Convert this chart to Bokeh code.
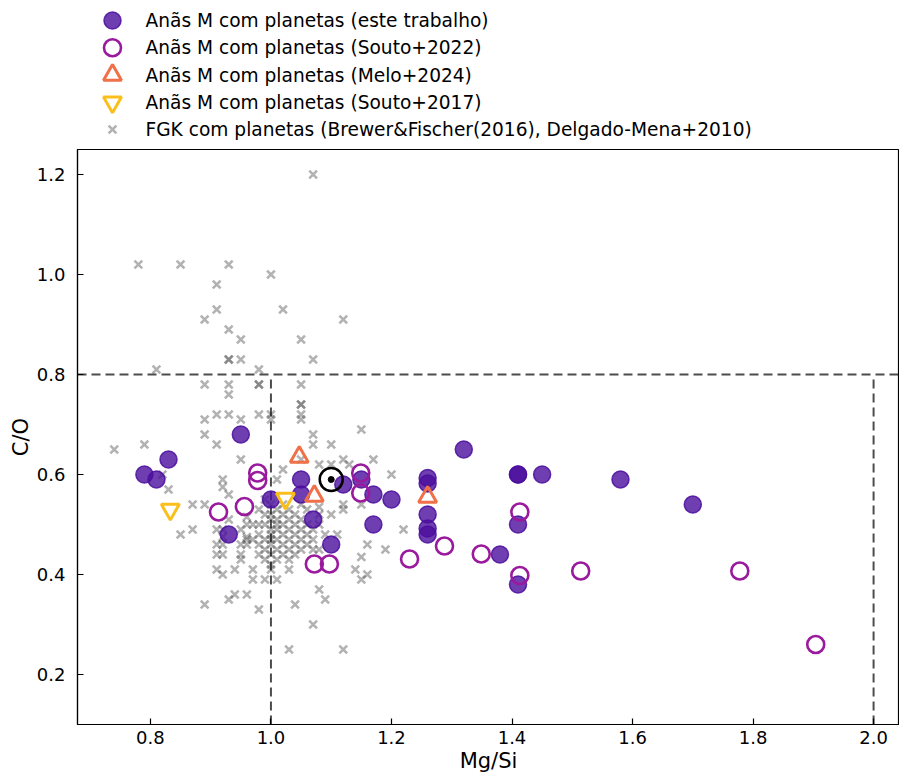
from bokeh.plotting import figure
from bokeh.models import Span, Range1d, FixedTicker
from bokeh.layouts import column
from bokeh.core.properties import value
from bokeh.embed import file_html
from bokeh.resources import INLINE

# ---------------- data ----------------
# M dwarfs with planets (this work)
this_mgsi = [0.79, 0.81, 0.83, 0.93, 0.95, 1.00, 1.05, 1.05, 1.07, 1.10,
             1.12, 1.15, 1.17, 1.17, 1.20, 1.26, 1.26, 1.26, 1.26, 1.26,
             1.32, 1.38, 1.41, 1.41, 1.41, 1.41, 1.45, 1.58, 1.70]
this_co = [0.60, 0.59, 0.63, 0.48, 0.68, 0.55, 0.59, 0.56, 0.51, 0.46,
           0.58, 0.59, 0.56, 0.50, 0.55, 0.593, 0.582, 0.52, 0.492, 0.48,
           0.65, 0.44, 0.60, 0.60, 0.50, 0.38, 0.60, 0.59, 0.54]

# Souto+2022
s22_mgsi = [0.913, 0.956, 0.978, 0.978, 1.072, 1.097, 1.149, 1.149,
            1.230, 1.288, 1.349, 1.413, 1.413, 1.514, 1.778, 1.904]
s22_co = [0.525, 0.536, 0.603, 0.588, 0.421, 0.421, 0.603, 0.563,
          0.431, 0.457, 0.441, 0.525, 0.398, 0.407, 0.407, 0.260]

# Melo+2024
melo_mgsi = [1.047, 1.072, 1.260]
melo_co = [0.635, 0.557, 0.555]

# Souto+2017
s17_mgsi = [0.833, 1.024]
s17_co = [0.530, 0.552]

# Sun
sun_mgsi = [1.10]
sun_co = [0.59]

# FGK with planets (Brewer & Fischer 2016, Delgado-Mena+2010)
fgk_mgsi = [
    0.78, 0.85, 0.93, 1.00, 0.91, 1.07,
    0.91, 1.02, 0.89, 1.12, 0.93, 0.95,
    1.05, 0.93, 0.93, 0.95, 1.07, 0.81,
    0.98, 0.89, 0.93, 0.93, 0.98, 0.98,
    1.05, 1.05, 1.05, 1.05, 1.05, 1.00,
    1.00, 0.89, 0.91, 0.93, 0.95, 0.98,
    0.89, 0.91, 1.07, 1.07, 1.10, 1.15,
    1.10, 1.12, 1.17, 1.20, 0.74, 0.79,
    0.82, 0.83, 0.87, 0.85, 0.87, 0.89,
    0.92, 0.92, 0.93, 0.95, 1.01, 1.02,
    1.05, 1.08, 1.13, 1.12, 1.10, 1.15,
    1.12, 1.08, 1.22, 1.16, 1.19, 1.15,
    1.11, 1.09, 1.16, 1.15, 1.14, 1.08,
    1.09, 1.07, 1.04, 1.03, 1.12, 0.98,
    0.96, 0.94, 0.93, 0.89, 0.91, 0.92,
    0.94, 0.97, 0.97, 0.99, 1.00, 1.01,
    1.03, 1.01, 0.91, 0.91, 0.92, 0.95,
    0.95, 0.96, 0.96, 0.96, 0.96, 0.91,
    0.93, 0.92, 0.92, 0.92, 0.95, 0.95,
    0.96,
    0.97, 0.97, 0.98, 0.98, 0.98, 0.98, 0.98,
    0.99, 0.99, 0.99, 0.99, 0.99, 0.99,
    1.00, 1.00, 1.00, 1.00, 1.00, 1.00, 1.00, 1.00, 1.00,
    1.01, 1.01, 1.01, 1.01, 1.01, 1.01,
    1.02, 1.02, 1.02, 1.02, 1.02, 1.02,
    1.03, 1.03, 1.03, 1.03, 1.03, 1.03,
    1.04, 1.04, 1.04, 1.04, 1.04,
    1.05, 1.05, 1.05, 1.05, 1.05,
    1.06, 1.06, 1.06, 1.06,
    1.07, 1.07, 1.07,
    1.08, 1.08, 1.08,
]
fgk_co = [
    1.02, 1.02, 1.02, 1.00, 0.98, 1.20,
    0.93, 0.93, 0.91, 0.91, 0.89, 0.87,
    0.87, 0.83, 0.83, 0.83, 0.83, 0.81,
    0.81, 0.78, 0.78, 0.76, 0.78, 0.78,
    0.78, 0.74, 0.74, 0.72, 0.71, 0.72,
    0.71, 0.71, 0.72, 0.72, 0.71, 0.72,
    0.68, 0.66, 0.68, 0.66, 0.66, 0.69,
    0.62, 0.63, 0.63, 0.60, 0.65, 0.66,
    0.60, 0.57, 0.54, 0.48, 0.49, 0.54,
    0.59, 0.575, 0.56, 0.63, 0.59, 0.61,
    0.63, 0.62, 0.62, 0.54, 0.52, 0.54,
    0.53, 0.535, 0.49, 0.46, 0.45, 0.435,
    0.48, 0.48, 0.40, 0.39, 0.41, 0.37,
    0.35, 0.30, 0.34, 0.25, 0.25, 0.33,
    0.36, 0.36, 0.35, 0.34, 0.41, 0.40,
    0.41, 0.41, 0.39, 0.39, 0.41, 0.43,
    0.41, 0.39, 0.46, 0.44, 0.44, 0.44,
    0.43, 0.515, 0.50, 0.475, 0.46, 0.49,
    0.51, 0.49, 0.475, 0.46, 0.49, 0.46,
    0.47,
    0.50, 0.47, 0.53, 0.50, 0.48, 0.46, 0.44,
    0.55, 0.52, 0.50, 0.47, 0.45, 0.43,
    0.54, 0.52, 0.51, 0.49, 0.48, 0.47, 0.46, 0.44, 0.42,
    0.53, 0.51, 0.50, 0.49, 0.47, 0.45,
    0.54, 0.52, 0.50, 0.48, 0.46, 0.44,
    0.53, 0.51, 0.49, 0.47, 0.45, 0.43,
    0.52, 0.50, 0.48, 0.46, 0.44,
    0.54, 0.51, 0.49, 0.47, 0.45,
    0.50, 0.48, 0.46, 0.53,
    0.49, 0.47, 0.45,
    0.52, 0.50, 0.45,
]

# reference limits
mgsi_limits = [1.0, 2.0]
co_limit = 0.8

x_ticks = [0.8, 1.0, 1.2, 1.4, 1.6, 1.8, 2.0]
x_tick_labels = ["0.8", "1.0", "1.2", "1.4", "1.6", "1.8", "2.0"]
y_ticks = [0.2, 0.4, 0.6, 0.8, 1.0, 1.2]
y_tick_labels = ["0.2", "0.4", "0.6", "0.8", "1.0", "1.2"]

labels = [
    "Anãs M com planetas (este trabalho)",
    "Anãs M com planetas (Souto+2022)",
    "Anãs M com planetas (Melo+2024)",
    "Anãs M com planetas (Souto+2017)",
    "FGK com planetas (Brewer&Fischer(2016), Delgado-Mena+2010)",
]

FONT = "DejaVu Sans"
LEFT = 77          # left border of both panels (px)
W = 899

# ---------------- styles ----------------
sty_this = dict(marker="circle", size=17, fill_color="#4b0e9e", fill_alpha=0.8,
                line_color="#4b0e9e", line_alpha=0.85, line_width=1.5)
sty_s22 = dict(marker="circle", size=17, fill_color=None,
               line_color="#9a1a9e", line_width=2.6)
sty_melo = dict(marker="triangle", size=18, fill_color=None,
                line_color="#f07048", line_width=3)
sty_s17 = dict(marker="inverted_triangle", size=18, fill_color=None,
               line_color="#fbbf1c", line_width=3)
sty_fgk = dict(marker="x", size=11, line_color="#555555", line_alpha=0.45,
               line_width=2.6)

# ---------------- legend panel (top) ----------------
LH = 148
leg = figure(width=W, height=LH, output_backend="svg", toolbar_location=None,
             x_range=Range1d(LEFT, W), y_range=Range1d(LH, 0),
             x_axis_location=None, y_axis_location=None,
             min_border_left=LEFT, min_border_right=0,
             min_border_top=0, min_border_bottom=0)
leg.grid.visible = False
leg.outline_line_color = None
leg.background_fill_color = "white"
leg.border_fill_color = "white"

row_y = [20 + 27.25 * i for i in range(len(labels))]
mark_x = 112
text_x = 145
for i, sty in enumerate([sty_this, sty_s22, sty_melo, sty_s17, sty_fgk]):
    leg.scatter([mark_x], [row_y[i]], **sty)
leg.text(x=[text_x] * len(labels), y=row_y, text=labels,
         text_font=value(FONT), text_font_size="18.6px", text_color="black",
         text_baseline="middle", text_align="left")

# ---------------- main figure ----------------
x_lo, x_hi = 0.679, 2.043
y_lo, y_hi = 0.1, 1.25

p = figure(width=W, height=630, output_backend="svg", toolbar_location=None,
           x_range=Range1d(x_lo, x_hi), y_range=Range1d(y_lo, y_hi),
           min_border_left=LEFT, min_border_right=0, min_border_top=1,
           min_border_bottom=54)
p.grid.visible = False
p.outline_line_color = "black"
p.outline_line_width = 1.2
p.background_fill_color = "white"
p.border_fill_color = "white"

for ax in (p.xaxis[0], p.yaxis[0]):
    ax.major_tick_in = 6
    ax.major_tick_out = 0
    ax.minor_tick_line_color = None
    ax.axis_line_color = "black"
    ax.axis_line_width = 1.2
    ax.major_tick_line_color = "black"
    ax.major_tick_line_width = 1.2
    ax.major_label_text_font = FONT
    ax.major_label_text_font_size = "18px"
    ax.major_label_text_color = "black"
    ax.axis_label_text_font = FONT
    ax.axis_label_text_font_size = "21px"
    ax.axis_label_text_font_style = "normal"
    ax.axis_label_text_color = "black"

p.xaxis.ticker = FixedTicker(ticks=x_ticks)
p.xaxis.major_label_overrides = dict(zip(x_ticks, x_tick_labels))
p.yaxis.ticker = FixedTicker(ticks=y_ticks)
p.yaxis.major_label_overrides = dict(zip(y_ticks, y_tick_labels))
p.xaxis.axis_label = "Mg/Si"
p.yaxis.axis_label = "C/O"
p.xaxis.major_label_standoff = 6
p.yaxis.major_label_standoff = 12
p.xaxis.axis_label_standoff = 2
p.yaxis.axis_label_standoff = 1

# FGK crosses
p.scatter(fgk_mgsi, fgk_co, **sty_fgk)

# reference dashed lines
p.add_layout(Span(location=co_limit, dimension="width", line_color="black",
                  line_alpha=0.7, line_width=2, line_dash="9 5"))
p.segment(x0=mgsi_limits, y0=[y_lo, y_lo], x1=mgsi_limits, y1=[co_limit, co_limit],
          line_color="black", line_alpha=0.7, line_width=2, line_dash="9 5")

p.scatter(this_mgsi, this_co, **sty_this)
p.scatter(s22_mgsi, s22_co, **sty_s22)
p.scatter(melo_mgsi, melo_co, **sty_melo)
p.scatter(s17_mgsi, s17_co, **sty_s17)
# Sun
p.scatter(sun_mgsi, sun_co, marker="circle", size=23, fill_color=None,
          line_color="black", line_width=2.5)
p.scatter(sun_mgsi, sun_co, marker="circle", size=6, fill_color="black",
          line_color="black")

layout = column(leg, p, spacing=0)
open("out.html", "w").write(file_html(layout, INLINE))
